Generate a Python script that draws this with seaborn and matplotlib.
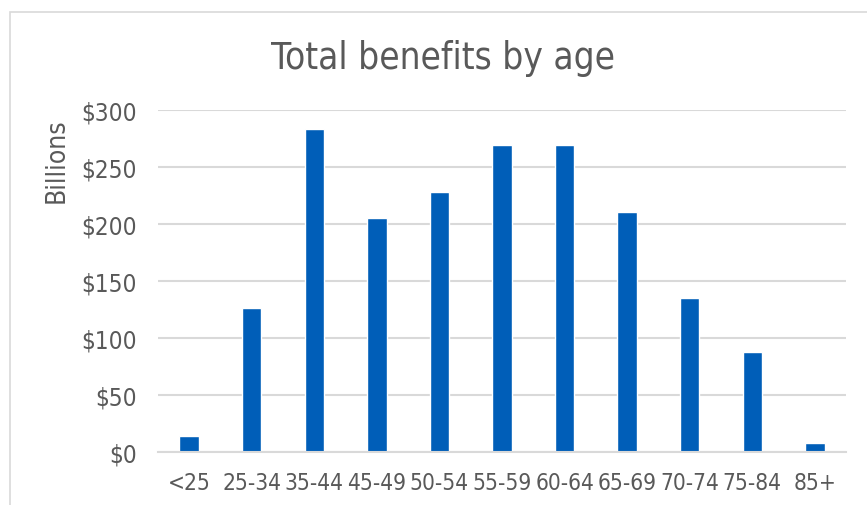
import numpy as np
import pandas as pd
import seaborn as sns
import matplotlib.pyplot as plt
from matplotlib.patches import Rectangle

age_groups = ["<25", "25-34", "35-44", "45-49", "50-54", "55-59",
              "60-64", "65-69", "70-74", "75-84", "85+"]
benefits = [14, 126, 283, 205, 228, 269, 269, 210, 135, 88, 8]

df = pd.DataFrame({"age": age_groups, "benefits": benefits})

sns.set_theme(style="white")
plt.rcParams["font.family"] = ["DejaVu Sans"]
plt.rcParams["font.stretch"] = "condensed"
plt.rcParams["font.weight"] = "light"

text_color = "#595959"
grid_color = "#D9D9D9"

fig = plt.figure(figsize=(8.67, 5.06), dpi=100)
ax = fig.add_axes([0.182, 0.105, 0.794, 0.676])

sns.barplot(data=df, x="age", y="benefits", color="#005EB8", saturation=1,
            width=0.31, ax=ax)

ax.set_xlim(-0.5, len(age_groups) - 0.5)
ax.set_ylim(0, 300)
ax.set_yticks(np.arange(0, 301, 50))
ax.set_yticklabels(["$%d" % v for v in range(0, 301, 50)])
ax.yaxis.grid(True, color=grid_color, linewidth=1.5)
ax.set_axisbelow(True)
for side in ["top", "right", "left"]:
    ax.spines[side].set_visible(False)
ax.spines["bottom"].set_color(grid_color)
ax.spines["bottom"].set_linewidth(1.5)

ax.tick_params(axis="both", colors=text_color, length=0)
ax.tick_params(axis="x", pad=14, labelsize=16.3)
ax.tick_params(axis="y", pad=15, labelsize=17.5)
ax.set_xlabel("")
ax.set_ylabel("Billions", color=text_color, fontsize=19)
ax.yaxis.set_label_coords(-0.128, 0.855)

fig.text(0.511, 0.885, "Total benefits by age", ha="center", va="center",
         fontsize=26.5, color=text_color)

# chart frame, cut off on the right and bottom like the source
fig.patches.append(Rectangle((0.011, -0.2), 1.2, 1.174, transform=fig.transFigure,
                             fill=False, edgecolor=grid_color, linewidth=1.2))

plt.savefig("out.png", dpi=100)
